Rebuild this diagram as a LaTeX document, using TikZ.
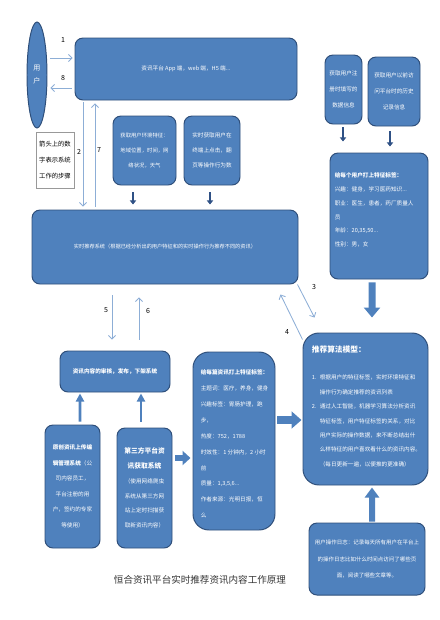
\documentclass[tikz,border=0pt]{standalone}
\usepackage{fontspec}
\setmainfont{Noto Sans CJK SC}
\usetikzlibrary{arrows.meta,shapes.geometric}

\definecolor{boxblue}{HTML}{4F81BD}
\definecolor{boxedge}{HTML}{2F4F7A}
\definecolor{flowblue}{HTML}{8DAED6}
\definecolor{feedblue}{HTML}{2F5185}
\definecolor{titlegray}{HTML}{333333}
\newcommand{\px}{0.025cm}
\newcommand{\itemno}[1]{\makebox[0.2cm][l]{#1}}
\newcommand{\headline}[1]{{\fontsize{4.8}{11.5}\selectfont\bfseries #1}}

\tikzset{
  panel/.style={draw=boxedge, fill=boxblue, line width=0.7pt, rounded corners=0.2cm,
    inner sep=0pt, text=white, align=center, font=\fontsize{4}{10.6}\selectfont},
  notebox/.style={draw=gray!80, fill=white, line width=0.6pt, inner sep=0pt,
    align=center, font=\fontsize{4.5}{11.3}\selectfont},
  paneltext/.style={inner sep=0pt, text=white, align=left, anchor=north west},
  numlabel/.style={inner sep=0pt, font=\fontsize{5}{6}\selectfont},
  flow/.style={draw=flowblue, line width=0.6pt, -{Straight Barb[length=2.5pt,width=5pt]}},
  feed/.style={draw=feedblue, line width=1.1pt, -{Triangle[length=3pt,width=4.5pt]}},
}

\begin{document}
\begin{tikzpicture}[x=\px, y=-\px]
  \useasboundingbox (0,0) rectangle (440,620);

  % 用户与资讯平台
  \node[panel, ellipse, minimum width=20*\px, minimum height=106*\px,
    font=\fontsize{5}{9.2}\selectfont] (user) at (37,75) {用\\户};
  \node[panel, minimum width=222*\px, minimum height=62*\px] (platform) at (186,69)
    {资讯平台 App 端，web 端，H5 端...};
  \node[notebox, minimum width=38*\px, minimum height=56*\px] (note) at (55,160)
    {箭头上的数\\字表示系统\\工作的步骤};

  % 采集
  \node[panel, minimum width=63*\px, minimum height=69*\px,
    font=\fontsize{3.8}{10.6}\selectfont] (env) at (144.5,150.5)
    {获取用户环境特征：\\地域位置，时间，网\\络状况，天气};
  \node[panel, minimum width=56*\px, minimum height=69*\px] (click) at (212,150.5)
    {实时获取用户在\\终端上点击，翻\\页等操作行为数};
  \node[panel, minimum width=37*\px, minimum height=69*\px,
    font=\fontsize{4}{11.3}\selectfont] (reg) at (343.5,89.5)
    {获取用户注\\册时填写的\\数据信息};
  \node[panel, minimum width=52*\px, minimum height=69*\px,
    font=\fontsize{4}{11.3}\selectfont] (hist) at (394,91.5)
    {获取用户以前访\\问平台时的历史\\记录信息};

  % 推荐系统
  \node[panel, minimum width=266*\px, minimum height=74*\px,
    font=\fontsize{3.7}{5}\selectfont] (rec) at (165,247)
    {实时推荐系统（根据已经分析出的用户特征和的实时操作行为推荐不同的资讯）};

  % 用户标签
  \node[panel, minimum width=98*\px, minimum height=126*\px] (usertag) at (379,216) {};
  \node[paneltext, font=\fontsize{4}{9.8}\selectfont] (usertag-t)
    at ([shift={(5,20)}]usertag.north west)
    {\textbf{给每个用户打上特征标签：}\\兴趣：健身，学习医药知识...\\职业：医生，患者，药厂质量人\\员\\年龄：20,35,50...\\性别：男，女};

  % 推荐算法模型
  \node[panel, rounded corners=0.4cm, minimum width=125*\px, minimum height=152*\px]
    (algo) at (365.5,409) {};
  \node[paneltext, font=\fontsize{5.5}{7}\selectfont\bfseries] (algo-title)
    at ([shift={(9,13)}]algo.north west) {推荐算法模型：};
  \node[paneltext, font=\fontsize{4}{10.3}\selectfont] (algo-t)
    at ([shift={(9,42)}]algo.north west)
    {\itemno{1.}根据用户的特征标签，实时环境特征和\\
     \itemno{}操作行为确定推荐的资讯列表\\
     \itemno{2.}通过人工智能，机器学习算法分析资讯\\
     \itemno{}特征标签，用户特征标签的关系，对比\\
     \itemno{}用户实际的操作数据，来不断总结出什\\
     \itemno{}么样特征的用户喜欢看什么的资讯内容。\\
     \itemno{}（每日更新一遍，以便推的更准确）};

  % 用户操作日志
  \node[panel, minimum width=116*\px, minimum height=72*\px,
    font=\fontsize{3.9}{12}\selectfont] (log) at (367,559)
    {用户操作日志：记录每天所有用户在平台上\\的操作日志比如什么时间点访问了哪些页\\面，阅读了哪些文章等。};

  % 资讯内容
  \node[panel, minimum width=110*\px, minimum height=41*\px,
    font=\fontsize{4}{6}\selectfont\bfseries] (audit) at (115,371.5)
    {资讯内容的审核，发布，下架系统};
  \node[panel, minimum width=55*\px, minimum height=123*\px,
    font=\fontsize{4}{11}\selectfont] (orig) at (72.5,486.5)
    {\textbf{原创资讯上传编}\\\textbf{辑管理系统}（公\\司内容员工，\\平台注册的用\\户，签约的专家\\等使用）};
  \node[panel, minimum width=55*\px, minimum height=120*\px,
    font=\fontsize{4}{10.5}\selectfont] (third) at (144.5,488)
    {\headline{第三方平台资}\\\headline{讯获取系统}\\（使用网络爬虫\\系统从第三方网\\站上定时扫描获\\取新资讯内容）};
  \node[panel, rounded corners=0.4cm, minimum width=82*\px, minimum height=178*\px]
    (newstag) at (234,441) {};
  \node[paneltext, font=\fontsize{4}{11.3}\selectfont] (newstag-t)
    at ([shift={(8,18)}]newstag.north west)
    {\textbf{给每篇资讯打上特征标签：}\\主题词：医疗，养身，健身\\兴趣标签：胃肠护理，跑\\步，\\热度：752，1788\\时效性：1 分钟内，2 小时\\前\\质量：1,3,5,6...\\作者来源：光明日报，恒\\么};

  % 步骤箭头
  \draw[flow] ([shift={(3,-17)}]user.east) -- ([shift={(-2,-11)}]platform.west);
  \draw[flow] ([shift={(-3,19)}]platform.west) -- ([shift={(3,13)}]user.east);
  \draw[flow] ([shift={(-103,2)}]platform.south) -- ([shift={(-82,-3)}]rec.north);
  \draw[flow] ([shift={(-70,-3)}]rec.north) -- ([shift={(-91,3)}]platform.south);
  \draw[flow] ([shift={(-1,0)}]rec.south east) -- ([shift={(12,-15)}]algo.north west);
  \draw[flow] ([shift={(0,7)}]algo.north west) -- ([shift={(-18,10)}]rec.south east);
  \draw[flow] ([shift={(-53,11)}]rec.south) -- ([shift={(-3,-11)}]audit.north);
  \draw[flow] ([shift={(24,-11)}]audit.north) -- ([shift={(-26,13)}]rec.south);

  \node[numlabel] (n1) at (63,40) {1};
  \node[numlabel] (n8) at (63,78) {8};
  \node[numlabel] (n2) at (79,152) {2};
  \node[numlabel] (n7) at (99,150) {7};
  \node[numlabel] (n3) at (314,287) {3};
  \node[numlabel] (n4) at (287,332) {4};
  \node[numlabel] (n5) at (106,310) {5};
  \node[numlabel] (n6) at (148,311) {6};

  % 采集箭头
  \draw[feed] ([shift={(-11.5,7)}]env.south) -- ([shift={(-32,-5)}]rec.north);
  \draw[feed] ([shift={(-2,7)}]click.south) -- ([shift={(45,-5)}]rec.north);
  \draw[feed] ([shift={(-0.5,3)}]reg.south) -- ([shift={(-36,-11)}]usertag.north);
  \draw[feed] ([shift={(-4,5)}]hist.south) -- ([shift={(11,-6)}]usertag.north);

  % 粗箭头
  \draw[boxblue, line width=0.175cm, -{Triangle[length=0.25cm,width=0.4cm]}]
    ([shift={(-7,3)}]usertag.south) -- ([shift={(6.5,-15)}]algo.north);
  \draw[boxblue, line width=0.15cm, -{Triangle[length=0.25cm,width=0.35cm]}]
    ([shift={(5,-1)}]log.north) -- ([shift={(6.5,2)}]algo.south);
  \draw[boxblue, line width=0.2cm, -{Triangle[length=0.25cm,width=0.42cm]}]
    ([shift={(2,-21)}]newstag.east) -- ([shift={(-1,11)}]algo.west);
  \draw[boxblue, line width=0.15cm, -{Triangle[length=0.2cm,width=0.35cm]}]
    ([shift={(3,-30)}]third.east) -- ([shift={(-2,17)}]newstag.west);
  \draw[boxblue, line width=0.07cm, -{Triangle[length=0.2cm,width=0.2cm]}]
    ([shift={(7.5,-3)}]orig.north) -- ([shift={(-35,1)}]audit.south);
  \draw[boxblue, line width=0.07cm, -{Triangle[length=0.2cm,width=0.2cm]}]
    ([shift={(-3.5,-6)}]third.north) -- ([shift={(26,1)}]audit.south);

  \node[font=\fontsize{6.8}{8}\selectfont, text=titlegray] (title) at (200,580)
    {恒合资讯平台实时推荐资讯内容工作原理};
\end{tikzpicture}
\end{document}
